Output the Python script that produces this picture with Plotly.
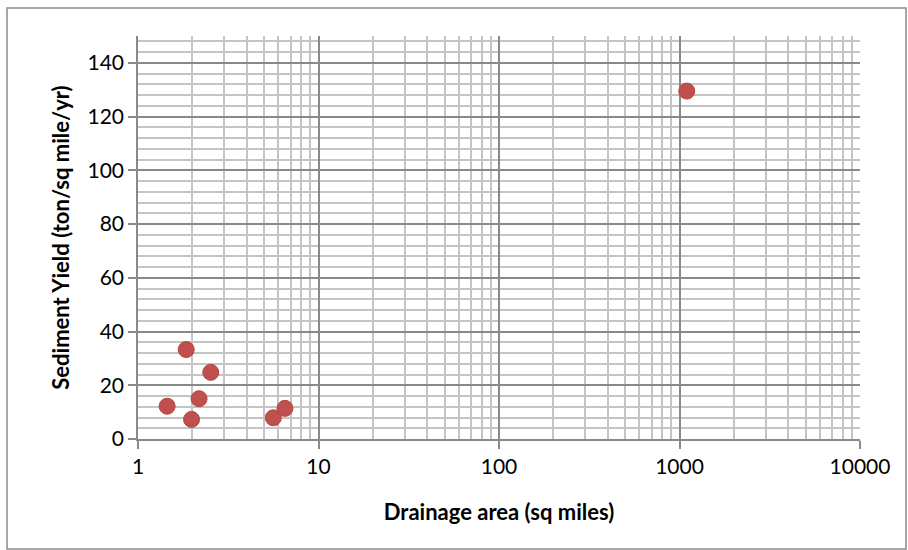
import plotly.graph_objects as go

drainage_area = [1.45, 1.85, 1.98, 2.18, 2.53, 5.62, 6.52, 1097]
sediment_yield = [12.2, 33.3, 7.3, 15.0, 24.8, 7.9, 11.4, 129.5]
x_ticks = [1, 10, 100, 1000, 10000]
x_labels = ["1", "10", "100", "1000", "10000"]

W, H = 908, 550
L, R, T, B = 138, 48, 36, 111
pw, ph = W - L - R, H - T - B

fig = go.Figure()
fig.add_trace(go.Scatter(
    x=drainage_area, y=sediment_yield, mode="markers",
    marker=dict(size=16, color="#C0504D", line=dict(color="#B5443F", width=1)),
    showlegend=False,
))

font = "Lato, 'Open Sans', sans-serif"
fig.update_xaxes(
    type="log", range=[0, 4],
    tickvals=x_ticks, ticktext=x_labels,
    showgrid=True, gridcolor="#8A8A8A", gridwidth=1.5,
    minor=dict(dtick="D1", showgrid=True, gridcolor="#C4C4C4", gridwidth=1.5),
    ticks="outside", ticklen=8, tickcolor="#8A8A8A", tickwidth=1.5,
    showline=True, linecolor="#8A8A8A", linewidth=1.5,
    tickfont=dict(family=font, size=21, color="#000"),
    title=dict(text="<b>Drainage area (sq miles)</b>", font=dict(family=font, size=22, color="#000"), standoff=28),
    zeroline=False,
)
fig.update_yaxes(
    range=[0, 150], tickvals=[0, 20, 40, 60, 80, 100, 120, 140],
    showgrid=True, gridcolor="#8A8A8A", gridwidth=1.5,
    minor=dict(dtick=4, showgrid=True, gridcolor="#C4C4C4", gridwidth=1.5),
    ticks="outside", ticklen=8, tickcolor="#8A8A8A", tickwidth=1.5,
    showline=True, linecolor="#8A8A8A", linewidth=1.5,
    tickfont=dict(family=font, size=21, color="#000"),
    title=dict(text="<b>Sediment Yield (ton/sq mile/yr)</b>", font=dict(family=font, size=22, color="#000"), standoff=12),
    zeroline=False,
)

# chart outer border
fig.add_shape(type="rect", xref="paper", yref="paper",
              x0=(7 - L) / pw, x1=(906 - L) / pw,
              y0=(H - B - 549) / ph, y1=(H - B - 8) / ph,
              line=dict(color="#8C8C8C", width=1.5), fillcolor="rgba(0,0,0,0)", layer="below")

fig.update_layout(
    width=W, height=H,
    margin=dict(l=L, r=R, t=T, b=B),
    paper_bgcolor="white", plot_bgcolor="white",
)
fig.write_html("out.html")
